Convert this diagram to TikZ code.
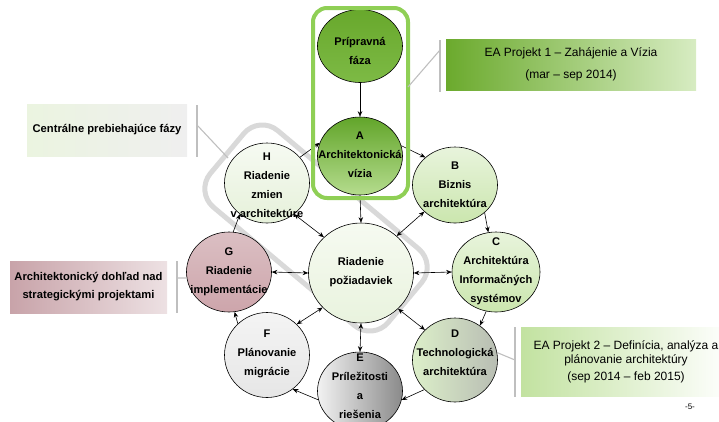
\documentclass[tikz,border=0pt]{standalone}
\usepackage{fontspec}
\setmainfont{Liberation Sans}
\usetikzlibrary{shapes.geometric,arrows.meta}
\definecolor{boxgreen}{HTML}{8FCF55}
\definecolor{bandgray}{HTML}{D9D9D9}
\definecolor{brkgray}{HTML}{BFBFBF}
\definecolor{laa}{RGB}{107,170,45}
\definecolor{lab}{RGB}{215,236,194}
\definecolor{lba}{RGB}{235,244,224}
\definecolor{lbb}{RGB}{239,239,239}
\definecolor{lca}{RGB}{200,163,169}
\definecolor{lcb}{RGB}{237,225,227}
\definecolor{lda}{RGB}{194,226,160}
\definecolor{pa}{RGB}{104,168,44}
\definecolor{pb}{RGB}{125,186,69}
\definecolor{aa}{RGB}{98,165,42}
\definecolor{ab}{RGB}{181,220,142}
\definecolor{ha}{RGB}{246,250,242}
\definecolor{hb}{RGB}{230,241,218}
\definecolor{ba}{RGB}{232,244,220}
\definecolor{bb}{RGB}{203,230,174}
\definecolor{ra}{RGB}{246,250,241}
\definecolor{rb}{RGB}{233,243,222}
\definecolor{ga}{RGB}{219,191,195}
\definecolor{gb}{RGB}{205,165,171}
\definecolor{fa}{RGB}{244,244,244}
\definecolor{fb}{RGB}{230,230,230}
\definecolor{da}{RGB}{220,239,201}
\definecolor{db}{RGB}{184,189,179}
\definecolor{ea}{RGB}{242,242,242}
\definecolor{eb}{RGB}{138,138,138}
\begin{document}
\begin{tikzpicture}[x=1pt,y=-1pt,
  circ/.style={ellipse, draw=black, line width=0.6pt, inner sep=0pt},
  ctext/.style={align=center, font=\fontsize{11.1}{19}\selectfont\bfseries, inner sep=0pt},
  arr/.style={-{Stealth[length=5.5pt,width=4.5pt]}, line width=0.6pt},
  darr/.style={{Stealth[length=5.5pt,width=4.5pt]}-{Stealth[length=5.5pt,width=4.5pt]}, line width=0.6pt},
  brk/.style={draw=brkgray, line width=1.1pt},
  lbox/.style={rectangle, inner sep=0pt, align=center},
]
\useasboundingbox (0,0) rectangle (719,421);
\clip (0,0) rectangle (719,421);

% gray band of central phases
\node[draw=bandgray, line width=5pt, rounded corners=24pt, minimum width=232pt,
      minimum height=100pt, rotate=-40, inner sep=0pt] (band) at (316,228) {};

% label boxes
\node[lbox, minimum width=250pt, minimum height=51pt, left color=laa, right color=lab,
      font=\fontsize{12}{22}\selectfont] (L1) at (571,64.5) {EA Projekt 1 – Zahájenie a Vízia\\(mar – sep 2014)};
\node[lbox, minimum width=160pt, minimum height=52pt, left color=lba, right color=lbb,
      font=\fontsize{11.2}{18}\selectfont\bfseries] (L2) at (107,130) {Centrálne prebiehajúce fázy};
\node[lbox, minimum width=157pt, minimum height=52pt, left color=lca, right color=lcb,
      font=\fontsize{11.2}{18}\selectfont\bfseries] (L3) at (88.5,287) {Architektonický dohľad nad\\strategickými projektami};
\node[lbox, minimum width=210pt, minimum height=69pt, left color=lda, right color=white,
      font=\fontsize{12}{14.5}\selectfont] (L4) at (626,361.5) {EA Projekt 2 – Definícia, analýza a\\plánovanie architektúry\\[2pt](sep 2014 – feb 2015)};

% circles
\node[circ, minimum width=85pt, minimum height=73pt, top color=pa, bottom color=pb] (P) at (360,46) {};
\node[circ, minimum width=85pt, minimum height=78pt, top color=aa, bottom color=ab] (A) at (360,156) {};
\node[circ, minimum width=85pt, minimum height=80pt, top color=ha, bottom color=hb] (H) at (267,183) {};
\node[circ, minimum width=85pt, minimum height=76pt, top color=ba, bottom color=bb] (B) at (455,185) {};
\node[circ, minimum width=88pt, minimum height=80pt, top color=ba, bottom color=bb] (C) at (496,272) {};
\node[circ, minimum width=105pt, minimum height=100pt, top color=ra, bottom color=rb] (R) at (361,273) {};
\node[circ, minimum width=85pt, minimum height=80pt, top color=ga, bottom color=gb] (G) at (229,272) {};
\node[circ, minimum width=85pt, minimum height=85pt, top color=fa, bottom color=fb] (F) at (267,355) {};
\node[circ, minimum width=85pt, minimum height=84pt, left color=da, right color=db] (D) at (455,360) {};
\node[circ, minimum width=85pt, minimum height=78pt, left color=ea, right color=eb] (E) at (360,391) {};

% circle texts
\node[ctext] (Pt) at (360,51) {Prípravná\\fáza};
\node[ctext] (At) at (360,155) {A\\Architektonická\\vízia};
\node[ctext] (Ht) at (267,185) {H\\Riadenie\\zmien\\v architektúre};
\node[ctext] (Bt) at (455,185) {B\\Biznis\\architektúra};
\node[ctext] (Ct) at (496,271) {C\\Architektúra\\Informačných\\systémov};
\node[ctext] (Rt) at (361,272) {Riadenie\\požiadaviek};
\node[ctext] (Gt) at (229,272) {G\\Riadenie\\implementácie};
\node[ctext] (Ft) at (267,354) {F\\Plánovanie\\migrácie};
\node[ctext] (Dt) at (455,353) {D\\Technologická\\architektúra};
\node[ctext] (Et) at (360,386.5) {E\\Príležitosti\\a\\riešenia};

% arrows around the cycle
\draw[arr] (P.270) -- (A.90);
\draw[arr] (H.38) -- (A.162);
\draw[arr] (A.14) -- (B.137);
\draw[arr] (B.317) -- (C.101);
\draw[arr] (C.256) -- (D.54);
\draw[arr] (D.224) -- (E.348);
\draw[arr] (E.192) -- (F.307);
\draw[arr] (F.133) -- (G.278);
\draw[arr] (G.84) -- (H.229);
\draw[arr] (A.270) -- (R.90);
% double arrows to requirements management
\draw[darr] (H.311) -- (R.136);
\draw[darr] (B.221) -- (R.46);
\draw[darr] (R.0) -- (C.180);
\draw[darr] (R.316) -- (D.135);
\draw[darr] (R.270) -- (E.90);
\draw[darr] (R.222) -- (F.46);
\draw[darr] (G.0) -- (R.180);

% green frame of preparation + vision
\draw[boxgreen, line width=4pt, rounded corners=14pt] (313,8) rectangle (408,198);

% bracket connectors
\coordinate (b1t) at (440,40); \coordinate (b1b) at (440,92);
\coordinate (b1m) at (440,50); \coordinate (b1e) at (408,87);
\draw[brk] (b1t) -- (b1b);
\draw[brk] (b1m) -- (b1e);
\coordinate (b2t) at (197,105); \coordinate (b2b) at (197,157);
\coordinate (b2m) at (197,125); \coordinate (b2e) at (228,158);
\draw[brk] (b2t) -- (b2b);
\draw[brk] (b2m) -- (b2e);
\coordinate (b3t) at (177,261); \coordinate (b3b) at (177,313);
\coordinate (b3m) at (177,278);
\draw[brk] (b3t) -- (b3b);
\draw[brk] (b3m) -- (G.188);
\coordinate (b4t) at (515,327); \coordinate (b4b) at (515,397);
\coordinate (b4m) at (515,360);
\draw[brk] (b4t) -- (b4b);
\draw[brk] (b4m) -- (D.10);

\node[font=\fontsize{8}{10}\selectfont, inner sep=0pt] (pg) at (690,407) {-5-};
\end{tikzpicture}
\end{document}
